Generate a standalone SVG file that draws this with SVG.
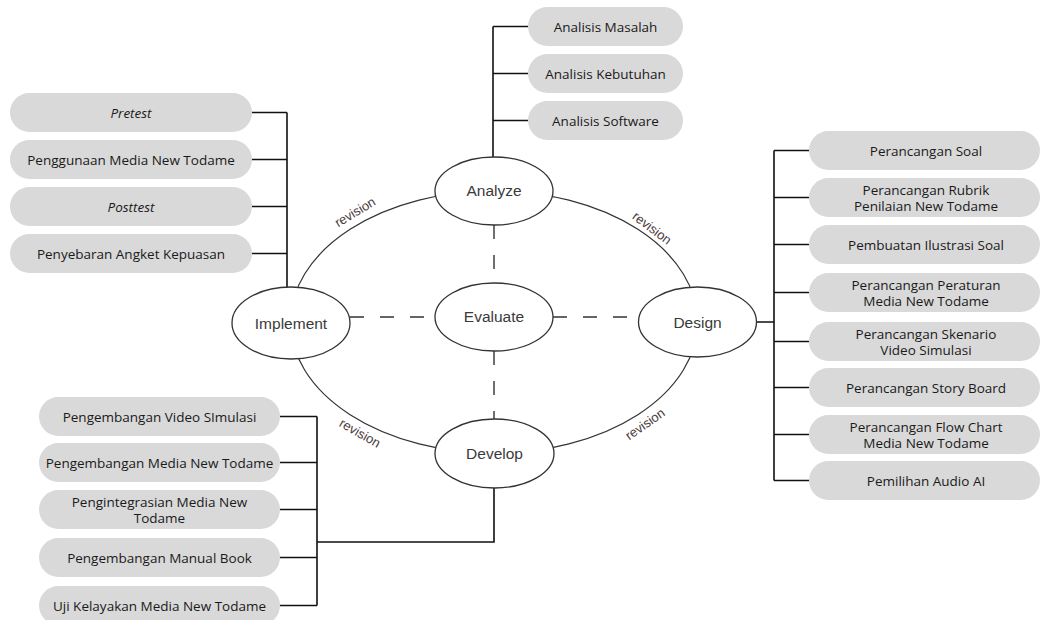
<svg xmlns="http://www.w3.org/2000/svg" width="1041" height="620" viewBox="0 0 1041 620">
<style>
.pill{fill:#d9d9d9;stroke:none}
.pt{font-family:"Open Sans","Liberation Sans",sans-serif;font-size:13.5px;fill:#1a1a1a;text-anchor:middle;dominant-baseline:central}
.it{font-style:italic}
.node{fill:#ffffff;stroke:#333333;stroke-width:1.3}
.nt{font-family:"Liberation Sans",Arial,sans-serif;font-size:15.5px;fill:#3a3a3a;text-anchor:middle;dominant-baseline:central}
.br{fill:none;stroke:#111111;stroke-width:1.6}
.dash{fill:none;stroke:#333333;stroke-width:1.4;stroke-dasharray:14 16}
.cyc{fill:none;stroke:#333333;stroke-width:1.2}
.rev{font-family:"Liberation Sans",Arial,sans-serif;font-size:13px;fill:#4a3a3a;text-anchor:middle;dominant-baseline:central}
</style>
<rect width="1041" height="620" fill="#ffffff"/>
<g id="connectors">
  <ellipse class="cyc" cx="494" cy="322" rx="203.5" ry="131"/>
  <path class="dash" d="M494 225 V283 M494 351 V419 M350 317 H436 M553 317 H639"/>
  <path class="br" d="M493 26.5 V157 M493 26.5 H528 M493 73.5 H528 M493 120.5 H528"/>
  <path class="br" d="M287 112.5 V288 M252 112.5 H287 M252 159.5 H287 M252 206.5 H287 M252 253.5 H287"/>
  <path class="br" d="M756 322 H774 M774 150.5 V480.5 M774 150.5 H809 M774 197.5 H809 M774 244.5 H809 M774 292.5 H809 M774 341.5 H809 M774 387.5 H809 M774 434.5 H809 M774 480.5 H809"/>
  <path class="br" d="M317 416.5 V605.5 M280 416.5 H317 M280 462.5 H317 M280 509.5 H317 M280 557.5 H317 M280 605.5 H317 M317 542 H494 V488"/>
  <text class="rev" transform="translate(355 212) rotate(-31)">revision</text>
  <text class="rev" transform="translate(652 228) rotate(37)">revision</text>
  <text class="rev" transform="translate(360 433) rotate(30)">revision</text>
  <text class="rev" transform="translate(645 424) rotate(-35)">revision</text>
</g>
<g id="analyze"><ellipse class="node" cx="494" cy="191" rx="59" ry="34"/><text class="nt" x="494" y="190">Analyze</text></g>
<g id="evaluate"><ellipse class="node" cx="494" cy="317" rx="59" ry="34"/><text class="nt" x="494" y="316">Evaluate</text></g>
<g id="implement"><ellipse class="node" cx="291" cy="323" rx="59" ry="36"/><text class="nt" x="291" y="323">Implement</text></g>
<g id="design"><ellipse class="node" cx="697.5" cy="322" rx="59" ry="35"/><text class="nt" x="697.5" y="322">Design</text></g>
<g id="develop"><ellipse class="node" cx="494.5" cy="453.5" rx="59.5" ry="34.5"/><text class="nt" x="494.5" y="453">Develop</text></g>

<g id="a1"><rect class="pill" x="528" y="7" width="155" height="39" rx="19.5"/><text class="pt" x="605.5" y="26.5">Analisis Masalah</text></g>
<g id="a2"><rect class="pill" x="528" y="54" width="155" height="39" rx="19.5"/><text class="pt" x="605.5" y="73.5">Analisis Kebutuhan</text></g>
<g id="a3"><rect class="pill" x="528" y="101" width="155" height="39" rx="19.5"/><text class="pt" x="605.5" y="120.5">Analisis Software</text></g>

<g id="i1"><rect class="pill" x="10" y="93" width="242" height="39" rx="19.5"/><text class="pt it" x="131" y="112.5">Pretest</text></g>
<g id="i2"><rect class="pill" x="10" y="140" width="242" height="39" rx="19.5"/><text class="pt" x="131" y="159.5">Penggunaan Media New Todame</text></g>
<g id="i3"><rect class="pill" x="10" y="187" width="242" height="39" rx="19.5"/><text class="pt it" x="131" y="206.5">Posttest</text></g>
<g id="i4"><rect class="pill" x="10" y="234" width="242" height="39" rx="19.5"/><text class="pt" x="131" y="253.5">Penyebaran Angket Kepuasan</text></g>

<g id="d1"><rect class="pill" x="809" y="131" width="231" height="39" rx="19.5"/><text class="pt" x="926" y="150.5">Perancangan Soal</text></g>
<g id="d2"><rect class="pill" x="809" y="178" width="231" height="39" rx="19.5"/><text class="pt" x="926" y="189.5">Perancangan Rubrik</text><text class="pt" x="926" y="205.5">Penilaian New Todame</text></g>
<g id="d3"><rect class="pill" x="809" y="225" width="231" height="39" rx="19.5"/><text class="pt" x="926" y="244.5">Pembuatan Ilustrasi Soal</text></g>
<g id="d4"><rect class="pill" x="809" y="273" width="231" height="39" rx="19.5"/><text class="pt" x="926" y="284.5">Perancangan Peraturan</text><text class="pt" x="926" y="300.5">Media New Todame</text></g>
<g id="d5"><rect class="pill" x="809" y="322" width="231" height="39" rx="19.5"/><text class="pt" x="926" y="333.5">Perancangan Skenario</text><text class="pt" x="926" y="349.5">Video Simulasi</text></g>
<g id="d6"><rect class="pill" x="809" y="368" width="231" height="39" rx="19.5"/><text class="pt" x="926" y="387.5">Perancangan Story Board</text></g>
<g id="d7"><rect class="pill" x="809" y="415" width="231" height="39" rx="19.5"/><text class="pt" x="926" y="426.5">Perancangan Flow Chart</text><text class="pt" x="926" y="442.5">Media New Todame</text></g>
<g id="d8"><rect class="pill" x="809" y="461" width="231" height="39" rx="19.5"/><text class="pt" x="926" y="480.5">Pemilihan Audio AI</text></g>

<g id="v1"><rect class="pill" x="39" y="397" width="241" height="39" rx="19.5"/><text class="pt" x="159.5" y="416.5">Pengembangan Video SImulasi</text></g>
<g id="v2"><rect class="pill" x="39" y="443" width="241" height="39" rx="19.5"/><text class="pt" x="159.5" y="462.5">Pengembangan Media New Todame</text></g>
<g id="v3"><rect class="pill" x="39" y="490" width="241" height="39" rx="19.5"/><text class="pt" x="159.5" y="501.5">Pengintegrasian Media New</text><text class="pt" x="159.5" y="517.5">Todame</text></g>
<g id="v4"><rect class="pill" x="39" y="538" width="241" height="39" rx="19.5"/><text class="pt" x="159.5" y="557.5">Pengembangan Manual Book</text></g>
<g id="v5"><rect class="pill" x="39" y="586" width="241" height="39" rx="19.5"/><text class="pt" x="159.5" y="605.5">Uji Kelayakan Media New Todame</text></g>
</svg>
